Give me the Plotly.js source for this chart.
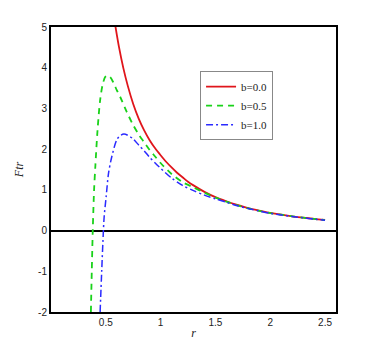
<!DOCTYPE html>
<html>
<head>
<meta charset="utf-8">
<script src="https://cdn.plot.ly/plotly-3.0.1.min.js"></script>
<style>html,body{margin:0;padding:0;background:#fff;}#chart{width:382px;height:340px;}</style>
</head>
<body>
<div id="chart"></div>
<script>
// b = 0.0
const r_b00 = [0.585,0.62,0.66,0.70,0.75,0.80,0.85,0.90,0.95,1.00,1.05,1.10,1.15,1.20,1.25,1.30,1.40,1.50,1.60,1.70,1.80,1.90,2.00,2.10,2.20,2.30,2.40,2.50];
const F_b00 = [5.06,4.51,3.99,3.56,3.11,2.75,2.46,2.22,2.02,1.85,1.69,1.55,1.42,1.31,1.20,1.11,0.95,0.82,0.72,0.63,0.55,0.49,0.435,0.39,0.35,0.318,0.287,0.26];
// b = 0.5
const r_b05 = [0.364,0.372,0.381,0.393,0.405,0.424,0.448,0.470,0.494,0.515,0.540,0.570,0.600,0.630,0.690,0.750,0.800,0.850,0.900,0.950,1.000,1.100,1.200,1.300,1.400,1.500,1.600,1.700,1.800,1.900,2.000,2.100,2.200,2.300,2.400,2.500];
const F_b05 = [-2.0,-1.0,0.0,1.0,1.6,2.45,3.2,3.57,3.77,3.81,3.77,3.63,3.45,3.29,2.92,2.59,2.36,2.17,1.98,1.82,1.66,1.39,1.19,1.06,0.93,0.81,0.71,0.62,0.545,0.485,0.43,0.39,0.35,0.316,0.285,0.258];
// b = 1.0
const r_b10 = [0.448,0.463,0.478,0.485,0.503,0.525,0.555,0.600,0.630,0.665,0.700,0.750,0.800,0.850,0.900,0.950,1.000,1.100,1.200,1.300,1.400,1.500,1.600,1.700,1.800,1.900,2.000,2.100,2.200,2.300,2.400,2.500];
const F_b10 = [-2.0,-0.97,0.0,0.34,0.83,1.41,1.82,2.23,2.33,2.37,2.34,2.25,2.10,1.96,1.80,1.66,1.53,1.29,1.11,0.98,0.87,0.78,0.695,0.61,0.54,0.48,0.425,0.385,0.347,0.314,0.284,0.256];

const xTicks = [0.5,1,1.5,2,2.5];
const xTickText = ['0.5','1','1.5','2','2.5'];
const yTicks = [-2,-1,0,1,2,3,4,5];
const yTickText = ['-2','-1','0','1','2','3','4','5'];

const traces = [
  {x:r_b00, y:F_b00, name:'b=0.0', mode:'lines', line:{color:'#e0151b', width:1.8, shape:'spline', smoothing:0.8}},
  {x:r_b05, y:F_b05, name:'b=0.5', mode:'lines', line:{color:'#19d219', width:1.8, dash:'6px,5px', shape:'spline', smoothing:0.8}},
  {x:r_b10, y:F_b10, name:'b=1.0', mode:'lines', line:{color:'#2a2aff', width:1.5, dash:'7px,3px,2px,3px', shape:'spline', smoothing:0.8}}
];

const axisFont = {family:'Liberation Sans, Arial, sans-serif', size:10, color:'#222'};
const serif = 'Liberation Serif, Times New Roman, serif';
const layout = {
  width:382, height:340,
  margin:{l:51, r:46, t:27, b:28},
  paper_bgcolor:'#fff', plot_bgcolor:'#fff',
  showlegend:true,
  legend:{x:0.523, y:0.845, xanchor:'left', yanchor:'top', bgcolor:'#fff', bordercolor:'#888', borderwidth:1,
          font:{family:serif, size:11, color:'#222'}, tracegroupgap:0, itemwidth:30},
  xaxis:{range:[0,2.6], tickvals:xTicks, ticktext:xTickText, tickfont:axisFont, showgrid:false, zeroline:false,
         showline:true, linecolor:'#000', linewidth:2, mirror:true, ticks:'', ticklen:0,
         title:{text:'<i>r</i>', font:{family:serif, size:12, color:'#222'}, standoff:2}},
  yaxis:{range:[-2,5], tickvals:yTicks, ticktext:yTickText, tickfont:axisFont, showgrid:false,
         zeroline:true, zerolinecolor:'#000', zerolinewidth:2,
         showline:true, linecolor:'#000', linewidth:2, mirror:true, ticks:'', ticklen:0,
         title:{text:'<i>Ftr</i>', font:{family:serif, size:12, color:'#222'}, standoff:12}}
};
Plotly.newPlot('chart', traces, layout, {staticPlot:true, displayModeBar:false});
</script>
</body>
</html>
